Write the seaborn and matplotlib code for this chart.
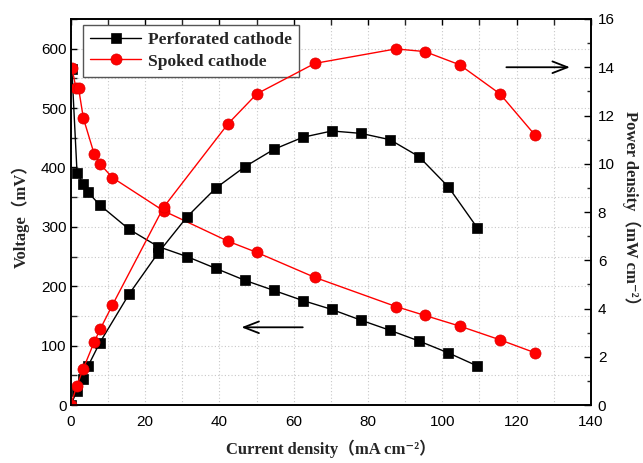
import numpy as np
import pandas as pd
import matplotlib
matplotlib.use("Agg")
import matplotlib.pyplot as plt
from matplotlib.ticker import MultipleLocator
from matplotlib.lines import Line2D
import seaborn as sns

# ---------------- data ----------------
perf_v_current = [0.3, 1.7, 3.3, 4.7, 7.8, 15.7, 23.5, 31.3, 39.1, 46.9, 54.7,
                  62.5, 70.3, 78.1, 85.9, 93.7, 101.6, 109.4]
perf_voltage = [566, 391, 373, 358, 337, 296, 267, 250, 230, 210, 193,
                176, 161, 143, 126, 108, 88, 66]

perf_p_current = [0, 1.7, 3.3, 4.7, 7.8, 15.7, 23.5, 31.3, 39.1, 46.9, 54.7,
                  62.5, 70.3, 78.1, 85.9, 93.7, 101.6, 109.4]
perf_power = [0, 0.6, 1.1, 1.63, 2.58, 4.6, 6.3, 7.8, 9.0, 9.88, 10.6,
              11.1, 11.36, 11.26, 11.0, 10.3, 9.05, 7.35]

spok_v_current = [0.3, 1.4, 2.1, 3.4, 6.3, 7.9, 11.2, 25.0, 42.3, 50.1, 65.7,
                  87.5, 95.3, 104.7, 115.5, 125.0]
spok_voltage = [568, 534, 534, 483, 423, 406, 383, 327, 276, 257, 215,
                166, 151, 133, 110, 88]

spok_p_current = [0, 1.6, 3.3, 6.3, 7.9, 11.2, 25.0, 42.3, 50.1, 65.7,
                  87.5, 95.3, 104.7, 115.5, 125.0]
spok_power = [0, 0.78, 1.48, 2.61, 3.14, 4.14, 8.2, 11.65, 12.9, 14.16,
              14.76, 14.65, 14.1, 12.9, 11.18]

series_names = ["Perforated cathode", "Spoked cathode"]
x_ticks = [0, 20, 40, 60, 80, 100, 120, 140]
left_ticks = [0, 100, 200, 300, 400, 500, 600]
right_ticks = [0, 2, 4, 6, 8, 10, 12, 14, 16]

# ---------------- style ----------------
sns.set_theme(style="white")
plt.rcParams["font.family"] = ["Liberation Sans", "DejaVu Sans"]
label_font = ["Liberation Serif", "Noto Sans CJK SC", "DejaVu Serif"]

fig = plt.figure(figsize=(6.43, 4.63), dpi=100)
ax = fig.add_axes([0.110, 0.125, 0.809, 0.834])
ax2 = ax.twinx()

black = "black"
red = "#ff0000"
sq = dict(marker="s", markersize=7, markeredgewidth=0.5)
ci = dict(marker="o", markersize=8, markeredgewidth=0.5)

df_pv = pd.DataFrame({"I": perf_v_current, "V": perf_voltage})
df_pp = pd.DataFrame({"I": perf_p_current, "P": perf_power})
df_sv = pd.DataFrame({"I": spok_v_current, "V": spok_voltage})
df_sp = pd.DataFrame({"I": spok_p_current, "P": spok_power})

sns.lineplot(data=df_pv, x="I", y="V", ax=ax, color=black, lw=1.0,
             sort=False, estimator=None, markeredgecolor=black, **sq)
sns.lineplot(data=df_sv, x="I", y="V", ax=ax, color=red, lw=1.0,
             sort=False, estimator=None, markeredgecolor="#e00000", **ci)
sns.lineplot(data=df_pp, x="I", y="P", ax=ax2, color=black, lw=1.0,
             sort=False, estimator=None, markeredgecolor=black, **sq)
sns.lineplot(data=df_sp, x="I", y="P", ax=ax2, color=red, lw=1.0,
             sort=False, estimator=None, markeredgecolor="#e00000", **ci)

# axes limits and ticks
ax.set_xlim(0, 140)
ax.set_ylim(0, 650)
ax2.set_ylim(0, 16)
ax.set_xticks(x_ticks)
ax.set_yticks(left_ticks)
ax2.set_yticks(right_ticks)
ax.xaxis.set_minor_locator(MultipleLocator(10))
ax.yaxis.set_minor_locator(MultipleLocator(50))
ax2.yaxis.set_minor_locator(MultipleLocator(1))

ax.grid(True, which="both", color="#c8c8c8", linestyle=(0, (1, 2)), lw=0.8)
ax2.grid(False)

for a in (ax, ax2):
    for s in a.spines.values():
        s.set_color("black")
        s.set_linewidth(1.2)
        s.set_visible(True)

ax.tick_params(axis="both", which="major", direction="in", length=4, width=1,
               labelsize=11, colors="black", top=True, right=False, pad=3)
ax.tick_params(axis="x", which="major", pad=7)
ax.tick_params(axis="both", which="minor", direction="in", length=4, width=1,
               top=True, right=False)
ax.tick_params(axis="x", which="both", labeltop=False)
ax2.tick_params(axis="y", which="major", direction="in", length=5, width=1,
                labelsize=11, colors="black", pad=5)
ax2.tick_params(axis="y", which="minor", direction="in", length=3, width=1)

ax.set_xlabel("Current density（mA cm⁻²）", family=label_font,
              fontweight="bold", fontsize=12, labelpad=8)
ax.set_ylabel("Voltage（mV）", family=label_font, fontweight="bold",
              fontsize=12, labelpad=8)
ax2.set_ylabel("Power density（mW cm⁻²）", family=label_font,
               fontweight="bold", fontsize=12, rotation=270, labelpad=18)

# arrows
ax.annotate("", xy=(45.2, 131), xytext=(63.2, 131),
            arrowprops=dict(arrowstyle="->,head_length=0.9,head_width=0.35",
                            color="black", lw=1.3))
ax2.annotate("", xy=(135.1, 14.0), xytext=(116.5, 14.0),
             arrowprops=dict(arrowstyle="->,head_length=0.9,head_width=0.35",
                             color="black", lw=1.3))

# legend
handles = [
    Line2D([], [], color=black, lw=1.0, markeredgecolor=black, **sq),
    Line2D([], [], color=red, lw=1.0, markeredgecolor="#e00000", **ci),
]
leg = ax.legend(handles, series_names, loc="upper left",
                bbox_to_anchor=(0.024, 0.985), borderaxespad=0,
                frameon=True, fancybox=False,
                edgecolor="#555555", framealpha=1, handlelength=2.9,
                borderpad=0.4, labelspacing=0.3, handletextpad=0.4,
                prop=dict(family=label_font, weight="bold", size=12.6))
leg.get_frame().set_linewidth(1.0)
leg.set_zorder(10)

fig.savefig("out.png", dpi=100)
